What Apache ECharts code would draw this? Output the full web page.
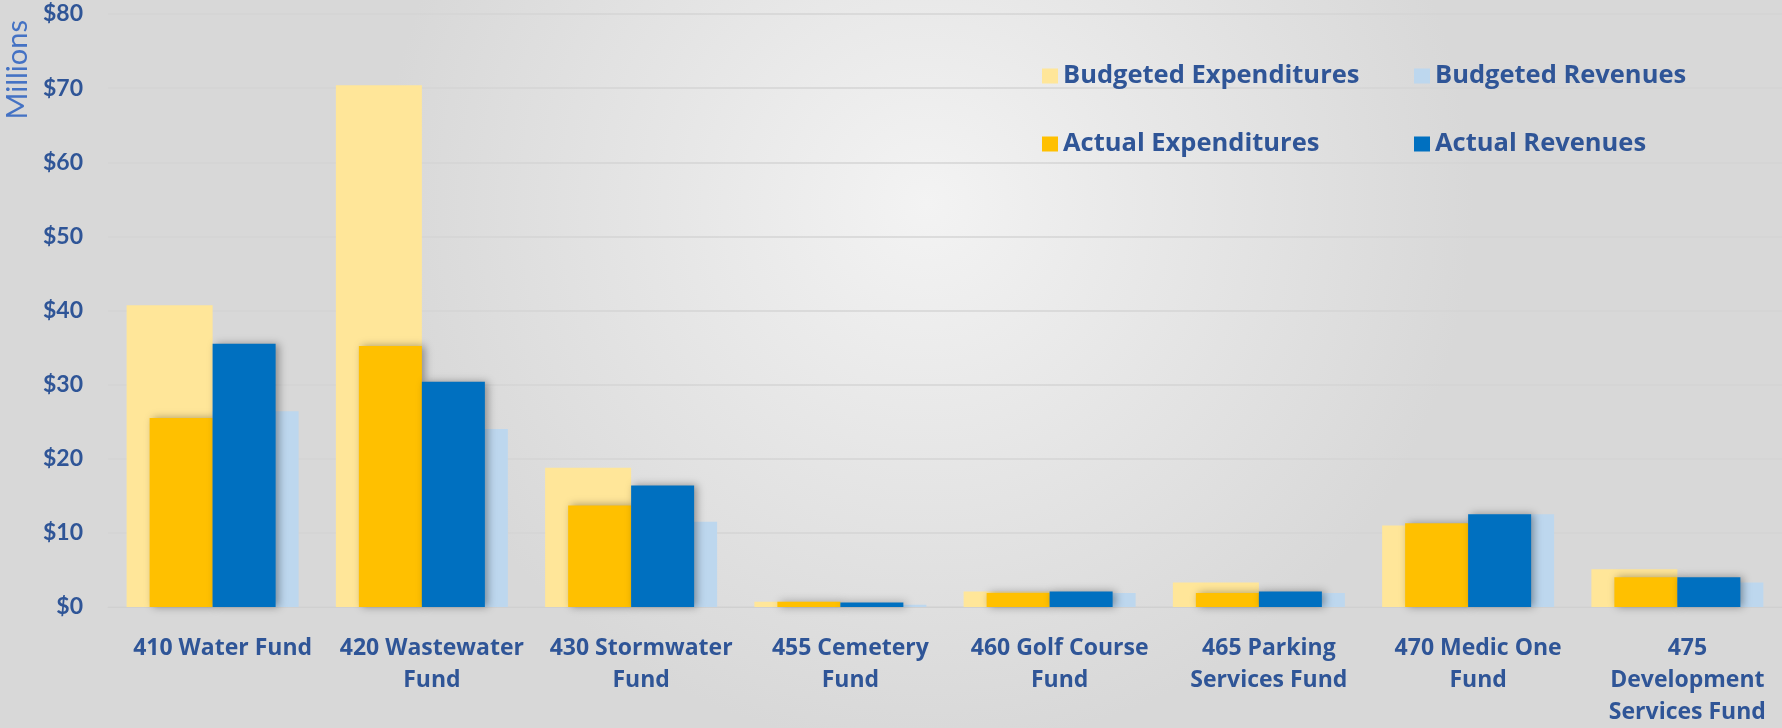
<!DOCTYPE html>
<html>
<head>
    <meta charset="UTF-8">
    <title>Enterprise Funds - Budget vs Actual</title>
    <script src="https://cdn.jsdelivr.net/npm/echarts@6/dist/echarts.min.js"></script>
    <style>
        html, body { margin: 0; padding: 0; }
        #main { width: 1782px; height: 728px; }
    </style>
</head>
<body>
<div id="main"></div>
<script type="text/javascript">
    // categories and values, in millions
    var funds = ['410 Water Fund', '420 Wastewater\nFund', '430 Stormwater\nFund', '455 Cemetery\nFund',
        '460 Golf Course\nFund', '465 Parking\nServices Fund', '470 Medic One\nFund', '475\nDevelopment\nServices Fund'];
    var budgetedExp = [40.7, 70.4, 18.8, 0.7, 2.1, 3.3, 11.0, 5.1];
    var budgetedRev = [26.4, 24.0, 11.5, 0.3, 1.9, 1.9, 12.5, 3.3];
    var actualExp = [25.5, 35.2, 13.7, 0.7, 1.9, 1.9, 11.3, 4.0];
    var actualRev = [35.5, 30.4, 16.4, 0.6, 2.1, 2.1, 12.5, 4.0];
    var yTicks = [0, 10, 20, 30, 40, 50, 60, 70, 80];

    var textBlue = '#2F5597';

    var chart = echarts.init(document.getElementById('main'));

    var shadow = {
        shadowColor: 'rgba(0,0,0,0.35)',
        shadowBlur: 8,
        shadowOffsetX: 3
    };

    // one legend per item so each sits where the original has it
    function legendItem(name, left, top) {
        return {
            left: left, top: top, itemWidth: 16, itemHeight: 15, itemGap: 8,
            icon: 'rect', data: [name],
            textStyle: {color: textBlue, fontWeight: 'bold', fontSize: 25.5, fontFamily: 'Open Sans'}
        };
    }

    var option = {
        backgroundColor: {
            type: 'radial', x: 0.52, y: 0.28, r: 0.75,
            colorStops: [
                {offset: 0, color: '#F3F3F3'},
                {offset: 1, color: '#D8D8D8'}
            ]
        },
        textStyle: {fontFamily: 'Lato'},
        grid: {left: 108, top: 14, width: 1679, bottom: 117},
        legend: [
            legendItem('Budgeted Expenditures', 1037, 58),
            legendItem('Budgeted Revenues', 1409, 58),
            legendItem('Actual Expenditures', 1037, 126),
            legendItem('Actual Revenues', 1409, 126)
        ],
        graphic: [{
            type: 'text', left: 3, top: 20, rotation: Math.PI / 2,
            style: {text: 'Millions', fill: '#4472C4', font: '29px Lato'}
        }],
        xAxis: [
            {
                type: 'category', data: funds,
                axisTick: {show: false},
                axisLine: {lineStyle: {color: '#D0D0D0'}},
                axisLabel: {
                    color: textBlue, fontWeight: 'bold', fontSize: 23, margin: 25,
                    lineHeight: 32, interval: 0, fontFamily: 'Open Sans',
                    padding: [0, 0, 0, 20]
                }
            },
            {type: 'category', data: funds, show: false}
        ],
        yAxis: {
            type: 'value', min: 0, max: 80, interval: 10,
            axisLabel: {
                color: textBlue, fontWeight: 'bold', fontSize: 23, margin: 25, fontFamily: 'Lato',
                formatter: function (v) { return yTicks.indexOf(v) >= 0 ? '$' + v : ''; }
            },
            splitLine: {lineStyle: {color: '#D4D4D4', width: 1.5}}
        },
        series: [
            {
                name: 'Budgeted Expenditures', type: 'bar', xAxisIndex: 0,
                data: budgetedExp, barWidth: 86, barGap: '0%',
                itemStyle: {color: '#FFE699'}
            },
            {
                name: 'Budgeted Revenues', type: 'bar', xAxisIndex: 0,
                data: budgetedRev, barWidth: 86, barGap: '0%',
                itemStyle: {color: '#BDD7EE'}
            },
            {
                name: 'Actual Expenditures', type: 'bar', xAxisIndex: 1,
                data: actualExp, barWidth: 63, barGap: '0%',
                itemStyle: Object.assign({color: '#FFC000'}, shadow)
            },
            {
                name: 'Actual Revenues', type: 'bar', xAxisIndex: 1,
                data: actualRev, barWidth: 63, barGap: '0%',
                itemStyle: Object.assign({color: '#0070C0'}, shadow)
            }
        ]
    };

    chart.setOption(option);
</script>
</body>
</html>
